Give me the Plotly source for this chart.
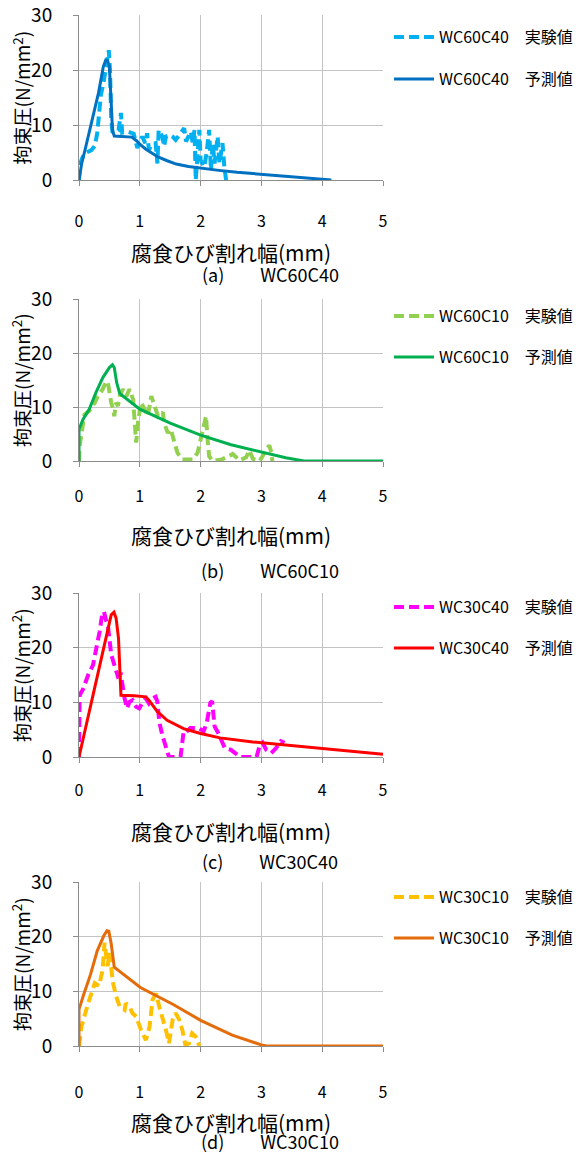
import plotly.graph_objects as go

# ---------------- data ----------------
# (a) WC60C40
a_exp_x = [0, 0.02, 0.06, 0.12, 0.2, 0.26, 0.3, 0.33, 0.36, 0.4, 0.43, 0.46, 0.49, 0.51, 0.52, 0.53, 0.55,
           0.6, 0.65, 0.69, 0.71, 0.8, 0.9, 0.96, 1.0, 1.04, 1.09, 1.12, 1.15, 1.2, 1.26, 1.29, 1.31, 1.37,
           1.4, 1.43, 1.5, 1.54, 1.59, 1.65, 1.73, 1.76, 1.8, 1.84, 1.87, 1.9, 1.92, 1.95, 1.98, 2.0, 2.06,
           2.1, 2.14, 2.17, 2.2, 2.23, 2.28, 2.31, 2.36, 2.39, 2.42]
a_exp_y = [0, 3.0, 4.2, 5.0, 5.4, 6.2, 8.5, 12, 15.5, 17.5, 19.5, 21, 23.6, 20, 15, 11, 8.8,
           8.6, 9.0, 12.2, 8.6, 8.8, 8.4, 5.8, 7.0, 7.9, 6.7, 8.5, 5.5, 6.5, 6.7, 3.0, 9.1, 7.9,
           6.1, 7.9, 8.2, 7.9, 7.3, 8.2, 9.4, 7.0, 7.8, 8.8, 6.7, 9.1, 0, 5.5, 9.1, 3.6, 2.4,
           5.0, 9.1, 1.8, 6.7, 3.0, 7.9, 3.0, 6.7, 2.4, 0]
a_pre_x = [0, 0.044, 0.1, 0.21, 0.32, 0.4, 0.44, 0.47, 0.5, 0.53, 0.55, 0.58, 0.87, 0.95, 1.0, 1.1, 1.2,
           1.3, 1.45, 1.6, 1.8, 2.0, 2.3, 2.6, 3.0, 3.4, 3.8, 4.15]
a_pre_y = [0, 3.0, 5.5, 10.9, 15.8, 20.6, 21.8, 21.7, 20.6, 13.9, 9.1, 8.0, 7.8, 7.1, 6.5, 5.6, 4.9,
           4.2, 3.5, 2.9, 2.45, 2.15, 1.75, 1.4, 1.05, 0.7, 0.35, 0]

# (b) WC60C10
b_exp_x = [0, 0.01, 0.09, 0.17, 0.26, 0.31, 0.39, 0.45, 0.48, 0.5, 0.53, 0.56, 0.58, 0.61, 0.64, 0.67,
           0.72, 0.78, 0.83, 0.89, 0.91, 0.94, 0.97, 1.02, 1.08, 1.13, 1.19, 1.24, 1.3, 1.38, 1.4, 1.46,
           1.51, 1.57, 1.62, 1.7, 1.87, 1.95, 2.0, 2.06, 2.09, 2.11, 2.14, 2.2, 2.35, 2.48, 2.53, 2.64,
           2.75, 2.8, 2.86, 2.97, 3.08, 3.13, 3.17, 3.18]
b_exp_y = [0, 2.8, 8.6, 9.3, 10.8, 12, 13.3, 14.8, 14.2, 12.7, 10.8, 9.6, 8.3, 10.8, 10.2, 12,
           13.3, 12, 13.3, 11.4, 7.7, 3.4, 7.1, 10.8, 9.6, 8.3, 12, 10.2, 8.3, 9.0, 7.1, 5.2,
           5.9, 3.4, 1.5, 0.3, 0.3, 1.5, 4.0, 7.1, 8.3, 4.6, 0.9, 0, 0.3, 1.0, 1.3, 0.1,
           0.7, 2.0, 0.4, 0, 2.0, 2.9, 1.3, 0]
b_pre_x = [0, 0, 0.066, 0.17, 0.28, 0.39, 0.5, 0.55, 0.58, 0.62, 0.67, 1.0, 1.5, 2.0, 2.5, 3.0, 3.4, 3.7, 5.0]
b_pre_y = [0, 5.9, 7.7, 9.6, 12.7, 15.4, 17.3, 17.8, 17.3, 14.5, 12.5, 9.6, 7.0, 4.8, 3.0, 1.6, 0.6, 0, 0]

# (c) WC30C40
c_exp_x = [0, 0.01, 0.07, 0.15, 0.23, 0.29, 0.34, 0.38, 0.41, 0.45, 0.48, 0.53, 0.59, 0.64, 0.69, 0.72,
           0.75, 0.79, 0.83, 0.88, 0.94, 0.99, 1.05, 1.1, 1.15, 1.21, 1.26, 1.29, 1.32, 1.37, 1.43, 1.48,
           1.67, 1.72, 1.75, 1.83, 1.97, 2.05, 2.1, 2.16, 2.19, 2.23, 2.29, 2.35, 2.4, 2.5, 2.59, 2.65,
           2.92, 2.97, 3.02, 3.08, 3.16, 3.24, 3.32, 3.38]
c_exp_y = [0, 11.3, 12.5, 15, 16.8, 19.9, 23, 26, 26.6, 24.8, 23.6, 18.7, 16.2, 14.7, 15, 12.6,
           10.7, 8.9, 10.1, 10.4, 9.2, 8.9, 10.1, 10.7, 9.8, 10.7, 11, 10.1, 6.4, 4.0, 1.5, 0,
           0, 4.6, 4.4, 5.3, 5.3, 4.7, 6.2, 9.9, 10.2, 5.6, 4.4, 2.6, 1.6, 1.3, 0.4, 0,
           0, 2.0, 2.6, 1.3, 0.7, 1.6, 2.9, 2.6]
c_pre_x = [0, 0.48, 0.53, 0.575, 0.61, 0.65, 0.68, 0.69, 0.91, 1.1, 1.15, 1.29, 1.45, 1.72, 2.0, 2.32,
           2.86, 3.0, 3.5, 4.0, 4.5, 5.0]
c_pre_y = [0, 23, 26, 26.5, 25.4, 21.7, 15.6, 11.3, 11.2, 11.0, 10.4, 8.3, 6.7, 5.2, 4.3, 3.5,
           2.75, 2.6, 2.1, 1.6, 1.1, 0.5]

# (d) WC30C10
d_exp_x = [0, 0.04, 0.15, 0.26, 0.33, 0.39, 0.42, 0.45, 0.47, 0.5, 0.53, 0.56, 0.61, 0.67, 0.75, 0.77,
           0.83, 0.88, 0.94, 1.02, 1.1, 1.16, 1.21, 1.27, 1.32, 1.37, 1.43, 1.48, 1.54, 1.59, 1.65, 1.7,
           1.75, 1.81, 1.86, 1.92, 1.97, 1.98]
d_exp_y = [0, 3.5, 7.8, 11.5, 11.0, 14, 18.9, 16.4, 14.6, 17, 14, 11.5, 9.1, 7.2, 6.6, 7.8,
           7.2, 6.0, 5.4, 2.9, 1.1, 3.5, 8.5, 9.6, 7.2, 5.4, 2.9, 0.5, 4.8, 6.0, 4.8, 2.9,
           0.2, 0.5, 2.3, 1.7, 0.2, 0]
d_pre_x = [0, 0, 0.08, 0.19, 0.3, 0.41, 0.46, 0.49, 0.53, 0.56, 0.58, 1.01, 1.55, 2.0, 2.52, 3.0, 3.09, 5.0]
d_pre_y = [0, 6.7, 9.5, 13.1, 17.4, 20.2, 21.1, 21.0, 18.7, 15.6, 14.4, 10.7, 7.6, 4.7, 2.0, 0.2, 0, 0]

names = ["WC60C40", "WC60C10", "WC30C40", "WC30C10"]
captions = ["(a)　　WC60C40", "(b)　　WC60C10", "(c)　　WC30C40", "(d)　　WC30C10"]
exp_label = "実験値"
pre_label = "予測値"
x_ticks = [0, 1, 2, 3, 4, 5]
y_ticks = [0, 10, 20, 30]

series = [
    (a_exp_x, a_exp_y, a_pre_x, a_pre_y),
    (b_exp_x, b_exp_y, b_pre_x, b_pre_y),
    (c_exp_x, c_exp_y, c_pre_x, c_pre_y),
    (d_exp_x, d_exp_y, d_pre_x, d_pre_y),
]

# ---------------- styles / layout ----------------
exp_colors = ["#00B0F0", "#92D050", "#FF00FF", "#FFC000"]
pre_colors = ["#0070C0", "#00B050", "#FF0000", "#E46C0A"]

# page-pixel geometry of each panel:
# (top, bottom, xtick_standoff, xtitle_y, caption_y, legend1_y, legend2_y)
panels_px = [
    (15, 180, 22, 252, 274, 37, 79),
    (299, 461, 16, 535, 570, 316, 357),
    (593, 757, 14, 831, 861, 607, 648),
    (882, 1046, 27, 1122, 1141, 897, 938),
]
X0, X1 = 79, 383
FONT = "Noto Sans CJK JP"
GRID = "#C4C4C4"
AXIS = "#8C8C8C"

OFF = 8                              # default page body margin
FW, FH = 584 - 2 * OFF + 8, 1160 - 2 * OFF   # page fits the window height (no scrollbar)


def px(x):
    return (x - OFF) / FW


def py(y):
    return 1 - (y - OFF) / FH


fig = go.Figure()
annotations = []
layout = dict(
    width=FW, height=FH, margin=dict(l=0, r=0, t=0, b=0, autoexpand=False),
    paper_bgcolor="white", plot_bgcolor="white",
    font=dict(family=FONT, color="black"),
)

for i, (ex, ey, qx, qy) in enumerate(series):
    n = i + 1
    xa = "x" if n == 1 else f"x{n}"
    ya = "y" if n == 1 else f"y{n}"
    top, bot, xstand, xt_y, cap_y, l1y, l2y = panels_px[i]
    lg1 = "legend" if n == 1 else f"legend{2 * i + 1}"
    lg2 = f"legend{2 * i + 2}"

    fig.add_trace(go.Scatter(
        x=ex, y=ey, mode="lines", name=f"{names[i]}　{exp_label}",
        line=dict(color=exp_colors[i], width=4, dash="10px,5px"),
        xaxis=xa, yaxis=ya, legend=lg1, hoverinfo="skip"))
    fig.add_trace(go.Scatter(
        x=qx, y=qy, mode="lines", name=f"{names[i]}　{pre_label}",
        line=dict(color=pre_colors[i], width=3),
        xaxis=xa, yaxis=ya, legend=lg2, hoverinfo="skip"))

    layout["xaxis" if n == 1 else f"xaxis{n}"] = dict(
        domain=[px(X0), px(X1)], range=[0, 5], tickvals=x_ticks,
        showgrid=True, gridcolor=GRID, gridwidth=1, zeroline=False,
        showline=True, linecolor=AXIS, linewidth=1,
        ticks="outside", ticklen=5, tickcolor=AXIS,
        tickfont=dict(size=16, family=FONT), ticklabelstandoff=xstand,
        anchor=ya, fixedrange=True)
    layout["yaxis" if n == 1 else f"yaxis{n}"] = dict(
        domain=[py(bot), py(top)], range=[0, 30], tickvals=y_ticks,
        showgrid=True, gridcolor=GRID, gridwidth=1, zeroline=False,
        showline=True, linecolor=AXIS, linewidth=1,
        ticks="outside", ticklen=5, tickcolor=AXIS,
        tickfont=dict(size=19, family=FONT), ticklabelstandoff=17,
        ticklabeloverflow="allow", anchor=xa, fixedrange=True)

    for lg, ly in ((lg1, l1y), (lg2, l2y)):
        layout[lg] = dict(
            x=px(389), y=py(ly), xanchor="left", yanchor="middle",
            bgcolor="rgba(0,0,0,0)", borderwidth=0, itemwidth=40,
            font=dict(size=16, family=FONT, color="black"))

    # y title
    annotations.append(dict(
        text="拘束圧(N/mm<sup>2</sup>)", x=px(21), y=py((top + bot) / 2),
        xref="paper", yref="paper", showarrow=False, textangle=-90,
        font=dict(size=19, family=FONT), xanchor="center", yanchor="middle"))
    # x title
    annotations.append(dict(
        text="腐食ひび割れ幅(mm)", x=px(231), y=py(xt_y),
        xref="paper", yref="paper", showarrow=False,
        font=dict(size=21, family=FONT), xanchor="center", yanchor="middle"))
    # caption
    annotations.append(dict(
        text=captions[i], x=px(270), y=py(cap_y),
        xref="paper", yref="paper", showarrow=False,
        font=dict(size=18, family=FONT), xanchor="center", yanchor="middle"))

layout["annotations"] = annotations
layout["showlegend"] = True
fig.update_layout(**layout)
fig.write_html("out.html")
